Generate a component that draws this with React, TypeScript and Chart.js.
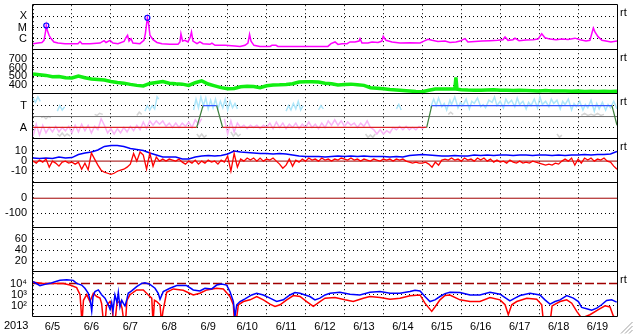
import React, { useEffect, useRef } from 'react';
import { Chart, registerables } from 'chart.js';

Chart.register(...registerables);

// ---------- axis / tick labels ----------
const yearLabel = '2013';
const dayLabels = ['6/5', '6/6', '6/7', '6/8', '6/9', '6/10', '6/11', '6/12', '6/13', '6/14', '6/15', '6/16', '6/17', '6/18', '6/19'];
const rightTag = 'rt';

const xrayTickValues = [1e-4, 1e-5, 1e-6];
const xrayTickLabels = ['X', 'M', 'C'];
const speedTickValues = [700, 600, 500, 400];
const sectorTickValues = [1, 0];
const sectorTickLabels = ['T', 'A'];
const fieldTickValues = [10, 0, -10];
const dstTickValues = [0, -100];
const kpTickValues = [60, 40, 20];
const electronTickValues = [1e4, 1e3, 1e2];
const electronTickLabels = ['10⁴', '10³', '10²'];

// ---------- reference levels ----------
const sectorA = 0;
const sectorT = 1;
const sectorMid = 0.5;
const fieldZero = 0;
const dstZero = 0;
const electronAlert = 1e4;

// ---------- data (x = hours since 6/5 00:00 UT) ----------
const xrayFlux: [number, number][] = [
  [0, 3.5e-7], [3.1, 4e-7], [5.5, 4.5e-7], [6.8, 7e-7], [7.7, 4e-6], [8.2, 1.5e-5], [8.9, 5e-6], [9.9, 2e-6], [11.1, 1e-6], [12.9, 5e-7],
  [15.4, 4e-7], [19.7, 3.5e-7], [24, 3.5e-7], [27.7, 3.5e-7], [29, 5.5e-7], [30.2, 3.5e-7], [35.1, 3.5e-7], [41.3, 4e-7], [43.8, 6.5e-7], [45, 4.5e-7],
  [47.5, 7e-7], [49.3, 4e-7], [52.4, 3.5e-7], [56.1, 5.5e-7], [57.3, 1.2e-6], [58.3, 2e-6], [59.2, 6e-7], [60.4, 1e-6], [61.6, 4e-7], [65.9, 3.5e-7],
  [68.4, 7e-7], [69.3, 3e-6], [70.5, 7.5e-5], [71.2, 2.5e-5], [72.1, 2e-6], [74, 8e-7], [76.4, 4.5e-7], [79.5, 3.5e-7], [84.4, 3.1e-7], [89.4, 3.1e-7],
  [90.6, 5e-7], [91.2, 2.7e-6], [92.2, 6e-7], [93.7, 7e-7], [95.5, 5e-7], [96.8, 1.2e-6], [97.7, 3.9e-6], [98.6, 6e-7], [101.1, 3.5e-7], [102.9, 5e-7],
  [104.8, 3.5e-7], [109.1, 3.1e-7], [110.3, 4e-7], [112.2, 2.5e-7], [118.4, 2.5e-7], [124.5, 2.2e-7], [127.6, 2e-7], [130.7, 2.5e-7], [132.5, 4e-7], [133.5, 2.4e-6],
  [134.4, 6e-7], [136.2, 2.5e-7], [139.9, 2e-7], [146.1, 2e-7], [147.3, 2.5e-7], [149.8, 2.5e-7], [151, 2e-7], [158.4, 2e-7], [164.6, 2e-7], [170.7, 2e-7],
  [176.9, 2e-7], [181.8, 2e-7], [183.7, 3.5e-7], [186.2, 5e-7], [188, 3e-7], [190.5, 3.5e-7], [193.6, 3.5e-7], [195.4, 5e-7], [198.5, 5e-7], [201, 6e-7],
  [201.6, 1e-6], [202.8, 4e-7], [206.5, 4e-7], [209, 5e-7], [212.7, 4.5e-7], [215.1, 6e-7], [215.9, 1.6e-6], [217.6, 7e-7], [221.3, 5e-7], [226.2, 4e-7],
  [232.4, 4.2e-7], [238.6, 4e-7], [241, 6e-7], [243.5, 8.7e-7], [246, 7e-7], [249.6, 5.5e-7], [254, 6e-7], [257, 4.5e-7], [260.7, 5e-7], [263.2, 6e-7],
  [266.3, 1e-6], [268.1, 5e-7], [272.4, 5.5e-7], [276.8, 6e-7], [281.7, 6.5e-7], [286.6, 7e-7], [289.7, 8e-7], [291, 1.4e-6], [292.8, 7e-7], [295.9, 8e-7],
  [297.1, 1.1e-6], [299.6, 6.5e-7], [303.9, 7.5e-7], [308.2, 8e-7], [311.3, 9e-7], [313.6, 2.7e-6], [315.6, 1.2e-6], [318.7, 9e-7], [322.4, 8e-7], [326.1, 9e-7],
  [329.8, 8.5e-7], [334.1, 1.1e-6], [337.2, 8e-7], [340.9, 6e-7], [343.3, 7e-7], [345.4, 9e-6], [346.4, 4e-6], [348.3, 1.5e-6], [350.7, 7e-7], [353.2, 6e-7],
  [356.3, 5e-7], [360, 6e-7],
];
const flareMarkers: [number, number][] = [[8.2, 1.5e-5], [70.5, 7.5e-5]];

const windSpeed: [number, number][] = [
  [0, 528], [4, 520], [8, 512], [12, 497], [16, 500], [20, 486], [24, 483], [28, 505], [32, 485], [36, 472],
  [40, 467], [44, 460], [48, 444], [52, 432], [56, 425], [60, 411], [64, 400], [68, 394], [72, 422], [76, 433],
  [80, 444], [84, 425], [88, 418], [92, 414], [96, 400], [100, 430], [104, 450], [108, 415], [112, 395], [116, 375],
  [120, 362], [124, 365], [128, 385], [132, 390], [136, 388], [140, 374], [144, 395], [148, 405], [152, 406], [156, 410],
  [160, 418], [164, 437], [168, 442], [172, 440], [176, 437], [180, 425], [184, 418], [188, 405], [192, 410], [196, 414],
  [200, 408], [204, 400], [208, 374], [212, 368], [216, 362], [220, 353], [224, 347], [228, 342], [232, 336], [236, 330],
  [240, 328], [244, 345], [248, 358], [252, 360], [256, 358], [260, 358], [260.7, 489], [261.4, 356], [264, 350], [268, 347],
  [272, 346], [276, 344], [280, 348], [284, 352], [288, 346], [292, 344], [296, 342], [300, 346], [304, 343], [308, 340],
  [312, 338], [316, 342], [320, 338], [324, 336], [328, 337], [332, 334], [336, 336], [340, 332], [344, 334], [348, 331],
  [352, 333], [356, 330], [360, 334],
];

const sectorState: [number, number][] = [
  [0, 0], [100.9, 0], [104.8, 1], [113.2, 1], [116.9, 0], [242.7, 0], [245.8, 1], [356.9, 1], [360, 0.1],
];
const sectorPinkStepHours = 2;
const sectorPink: (number | null)[] = [
  -0.4, 0.15, -0.35, 0.1, -0.25, 0.0, -0.2, 0.05, -0.2, 0.0, -0.15, 0.05,
  -0.25, 0.1, -0.2, 0.15, -0.15, 0.1, -0.25, 0.05, -0.1, 0.4, 0.1,
  -0.25, -0.05, -0.3, -0.05, -0.25, 0.0, -0.2, 0.05, -0.15, 0.1, -0.1,
  0.25, -0.05, 0.3, 0.1, 0.3, 0.15, 0.3, 0.05, 0.2, 0.0, 0.2,
  0.0, 0.2, 0.05, 0.25, 0.0, 0.35, 0.15, 0.4,
  null, null, null, null, null, null,
  0.4, -0.3, 0.3, -0.2, 0.2, 0.0, 0.1, -0.05, 0.1, 0.0, 0.1, -0.05, 0.1, 0.0,
  0.2, -0.05, 0.25, 0.0, 0.2, -0.05, 0.15, 0.0, 0.2, -0.05, 0.15, 0.0, 0.25, 0.0, 0.15, -0.05, 0.2, 0.0, 0.3,
  0.1, 0.35, 0.1, 0.3, 0.05, 0.25, 0.1, 0.2, 0.0, 0.2, 0.05, 0.3, 0.0,
  -0.1, -0.3, -0.1, -0.3, -0.15, -0.25, 0.0, -0.1, 0.05, -0.1, 0.05, -0.1, 0.0, -0.1, 0.05, -0.05, 0.05,
];
const sectorBlue: [number, number | null][] = [
  [0, 1.35], [1.5, 1.15], [3, 1.4], [4.5, 1.2], [5, null],
  [15, 0.75], [16.5, 1.0], [18, 0.8], [19.5, 0.95], [20, null],
  [69, 0.75], [70.5, 1.0], [72, 0.8], [73.5, 1.0], [75, 0.85], [76.5, 1.4], [77.5, 1.3], [78, null],
  [99, 0.8], [100.5, 1.3], [102, 0.9], [103.5, 1.4], [105, 1.0], [106.5, 1.35], [108, 0.85], [109.5, 1.25], [111, 0.9], [112.5, 1.3],
  [114, 0.85], [115.5, 1.2], [117, 0.9], [118.5, 1.3], [120, 0.8], [121.5, 1.2], [123, 0.9], [124.5, 1.1], [126, 0.85], [127, null],
  [156, 0.75], [157.5, 1.0], [159, 0.8], [160.5, 1.1], [162, 0.85], [163.5, 1.2], [165, 0.8], [166.5, 1.0], [167, null],
  [176, 0.8], [177.5, 1.0], [179, 0.85], [180, null],
  [224, 0.85], [225.5, 1.05], [227, 0.8], [228, null],
  [245, 0.9], [247, 1.3], [248.5, 1.0], [250, 1.35], [252, 0.95], [253.5, 1.1], [255, 0.8], [257, 1.25], [258, 1.05], [260, 1.4],
  [262, 0.9], [263.5, 1.15], [265, 1.0], [267, 1.3], [269, 0.85], [270.5, 1.2], [272, 1.1], [274, 1.35], [276, 0.95], [277.5, 1.05],
  [279, 0.9], [281, 1.25], [283, 1.15], [284.5, 1.4], [286, 1.0], [288, 1.2], [290, 0.9], [291.5, 1.3], [293, 1.1], [295, 1.25],
  [297, 0.95], [298.5, 1.35], [300, 1.05], [302, 1.2], [304, 0.85], [305.5, 1.15], [307, 1.0], [309, 1.3], [311, 0.9], [312.5, 1.4],
  [314, 1.05], [316, 1.2], [318, 0.95], [319.5, 1.3], [321, 1.1], [323, 1.25], [325, 0.85], [326.5, 1.2], [328, 1.05], [330, 1.3],
  [332, 0.8], [333.5, 1.1], [335, 0.95], [337, 1.2], [339, 0.8], [340.5, 1.05], [342, 0.9], [344, 1.25], [346, 0.75], [347.5, 1.1],
  [349, 0.85], [351, 1.15], [353, 0.8], [354.5, 1.05], [356, 0.9], [358, 1.2], [360, 0.85],
];
const sectorGray: [number, number | null][] = [
  [5, 0.45], [6.5, 0.5], [8, 0.4], [9.5, 0.5], [11, 0.45], [12, null],
  [15, -0.3], [16.5, -0.4], [18, -0.25], [19.5, -0.4], [21, -0.3], [23, -0.4], [24, null],
  [38, 0.6], [39.5, 0.55], [41, 0.65], [43, 0.6], [44, null],
  [64, 0.55], [65.5, 0.7], [67, 0.6], [68, null],
  [101, -0.3], [102.5, -0.45], [104, -0.3], [105.5, -0.45], [107, -0.35], [108, null],
  [122, -0.2], [123.5, -0.4], [125, -0.25], [126.5, -0.4], [128, -0.3], [129, null],
  [205, -0.3], [206.5, -0.45], [208, -0.35], [209.5, -0.45], [211, -0.3], [212, null],
  [256, 0.6], [257.5, 0.7], [259, 0.6], [260, null],
  [323, -0.3], [324.5, -0.45], [326, -0.35], [327, null],
  [338, 0.55], [340, 0.65], [342, 0.55], [344, 0.6], [346, 0.55], [348, 0.65], [350, 0.55], [352, 0.6], [353, null],
];

const fieldTotalStepHours = 4;
const fieldTotal: number[] = [
  3, 2.5, 3, 2.5, 4, 3, 3.5, 6.5, 8, 9,
  11, 14.5, 15.5, 15.5, 14.5, 12.5, 11.5, 10.5, 8, 6,
  4, 4, 4, 2, 2, 4, 5, 5.5, 5, 5.5,
  7, 10, 9, 8.5, 8, 7.5, 7.5, 7, 7.5, 7,
  6, 5, 4.5, 4.5, 4.5, 4, 4.5, 5, 4.5, 5,
  4.5, 5, 4.5, 4.5, 4.5, 4, 4.5, 4, 5.5, 6,
  6.5, 6, 5.5, 5, 5, 5.5, 5, 5, 6, 5.5,
  6, 5.5, 6, 6, 5.5, 6, 6, 5.5, 6, 6,
  5.5, 6, 5.5, 6, 6, 6.5, 6, 6.5, 6.5, 7,
  9.5,
];
const fieldBzStepHours = 2;
const fieldBz: number[] = [
  0, -2, 1, -1, 2, -6, 0, -2, -5, -1,
  0, -2, -1, -3, -1, -8, -2, -8.5, 8, 2,
  -4, -9, -11, -12, -13, -12, -10, -9, -8, -6,
  -3, 7.5, 0, 9, 6, -8, 8, -5, 4, 0,
  2, 0, 2, 1, 0, 2, -1, -3, 0, -2,
  1, -3, 0, -2, 1, -1, 0, -3, 1, -1,
  5, -10, 7.5, -6, 2, 0, 3, 1, 3, 0,
  3, 0, 2, 1, 3, 0, -3, -7, -4, 2,
  -5, 1, -1, 2, 0, 3, 1, 2, 0, 3,
  1, 2, 0, 2, 1, 3, 2, 1, 3, 1,
  2, 0, 2, 1, 0, 2, 1, 0, 2, 1,
  2, 0, 2, 1, 2, 0, -1, -2, -1, -2,
  -2, -1, -3, -6, -1, -4, 1, 2, 1, 3,
  1, 2, 0, 3, 1, 2, 0, 3, 1, 3,
  0, 2, -1, 1, -1, 0, -2, 1, -1, -2,
  0, -2, -1, -2, 0, -1, -2, -3, -4, -3,
  -4, -2, -3, 0, 2, 0, 3, -4, 2, -2,
  3, 1, 3, 0, 2, 1, 3, 0, -1, -5, -8,
];

const electronLow: [number, number][] = [
  [0.2, 14800], [4.3, 6610], [7.4, 8510], [10.5, 10500], [13.6, 14800], [16.6, 19500], [20.8, 22400], [24.8, 19500], [26.9, 10500], [30, 7410],
  [32, 3800], [34.1, 1350], [35.4, 251], [36.2, 34], [37, 631], [38.2, 1910], [40.3, 2690], [42.3, 1000], [44.4, 490], [46.4, 126],
  [47.5, 50], [48.5, 200], [49.3, 32], [50.5, 955], [51.8, 200], [52.6, 1580], [53.6, 79], [54.7, 316], [55.8, 158], [56.7, 100],
  [57.9, 398], [58.7, 1350], [60.8, 2190], [63.9, 5370], [67, 10500], [69, 12000], [72.1, 8510], [75.2, 3800], [77.2, 1350], [78.3, 398],
  [80.3, 1910], [84.4, 3800], [88.6, 6610], [94.7, 6610], [98.8, 2690], [102.9, 2190], [106, 3800], [110.2, 3310], [113.2, 7410], [116.3, 9120],
  [119.4, 7410], [121.4, 1910], [123.5, 245], [124.5, 11], [125.6, 126], [127.6, 245], [130.7, 427], [134.8, 955], [137.9, 1350], [142, 955],
  [146.1, 490], [150.2, 245], [154.3, 347], [158.4, 955], [161.5, 1580], [164.6, 1350], [167.7, 955], [170.7, 692], [173.8, 347], [176.9, 490],
  [180, 955], [183.1, 1350], [189.2, 1660], [195.4, 1120], [201.5, 955], [207.7, 1660], [213.9, 1910], [220.1, 1350], [226.2, 1350], [232.4, 1910],
  [235.5, 2510], [238.6, 2190], [241.6, 692], [244.7, 245], [247.8, 347], [250.9, 692], [254, 1260], [257, 1660], [263.2, 1550], [269.4, 955],
  [275.5, 955], [281.7, 1660], [287.9, 1120], [291, 562], [294, 282], [297.1, 490], [300.2, 851], [306.4, 1350], [312.5, 955], [315.6, 347],
  [318.7, 145], [321.8, 245], [324.9, 347], [329, 851], [333.1, 490], [336.2, 245], [338.2, 72], [341.3, 56], [344.4, 40], [347.5, 63],
  [350.5, 126], [353.6, 302], [356.7, 347], [359.8, 214],
];
const electronHigh: [number, number][] = [
  [0.2, 12900], [6.3, 10000], [14.6, 10000], [18.7, 10000], [22.8, 7410], [26.9, 4370], [29, 1000], [30.2, 3], [31.1, 316], [33.1, 1000],
  [35.1, 245], [37.2, 1350], [39.3, 692], [41.3, 501], [42.3, 158], [43.5, 3], [44.4, 3], [45.3, 100], [47.5, 245], [48.7, 100],
  [49.6, 3], [50.5, 3], [51.8, 200], [53.6, 245], [54.9, 63], [56.1, 3], [57, 3], [57.9, 316], [59.8, 1000], [63.9, 2690],
  [68, 2690], [71.1, 955], [73.2, 490], [74, 3], [74.9, 316], [76.3, 245], [78.3, 126], [79.2, 3], [80.1, 32], [82.4, 1660],
  [86.5, 3310], [92.6, 2510], [98.8, 955], [102.9, 1350], [107.1, 2690], [113.2, 3800], [117.3, 3310], [121.4, 692], [123.5, 126], [124.2, 3],
  [125.1, 3], [126.6, 126], [129.7, 245], [133.8, 347], [137.9, 692], [142, 347], [146.1, 145], [149.2, 89], [152.3, 126], [156.4, 347],
  [160.5, 851], [164.6, 692], [168.7, 245], [172.8, 89], [176.9, 245], [180, 490], [186.1, 562], [192.3, 347], [197.4, 245], [203.6, 490],
  [207.7, 692], [213.9, 562], [220.1, 398], [226.2, 490], [232.4, 794], [238.6, 955], [241.6, 174], [245.8, 32], [247.8, 79], [250.9, 347],
  [254, 851], [257, 955], [263.2, 347], [269.4, 245], [275.5, 245], [281.7, 562], [287.9, 347], [291, 126], [293, 16], [295.1, 126],
  [298.2, 245], [304.4, 490], [310.5, 398], [313.6, 126], [314.7, 3], [318.7, 3], [320, 100], [322.5, 158], [324.9, 245], [329, 347],
  [332.1, 174], [335.2, 32], [338.2, 8], [343.3, 16], [348.5, 45], [352.6, 100], [355.7, 79], [357.7, 12.6], [360, 6.3],
];

// ---------- helpers ----------
const totalHours = dayLabels.length * 24;
const pts = (arr: [number, number | null][]) => arr.map(([x, y]) => ({ x, y }));
const uniform = (vals: (number | null)[], step: number) => vals.map((y, i) => ({ x: i * step, y }));
const flat = (level: number) => [{ x: 0, y: level }, { x: totalHours, y: level }];

const FONT = { family: "'Liberation Sans', Arial, Helvetica, sans-serif", size: 11 };
const TRANSPARENT = 'rgba(0,0,0,0)';

function noPad(s: any) {
  s.paddingTop = 0;
  s.paddingBottom = 0;
  s.paddingLeft = 0;
  s.paddingRight = 0;
}

function panelScale(weight: number, extra: any, tickValues: number[], labels?: string[], hideGrid: number[] = []) {
  return {
    position: 'left',
    stack: 'panels',
    stackWeight: 1,
    weight,
    border: { display: false, dash: [1, 3] },
    grid: {
      drawTicks: false,
      lineWidth: 1,
      color: (ctx: any) => (ctx.tick && hideGrid.includes(ctx.tick.value) ? TRANSPARENT : '#000'),
    },
    ticks: {
      autoSkip: false,
      padding: 6,
      color: '#000',
      font: FONT,
      callback: (v: any, i: number) => (labels ? labels[i] : String(v)),
    },
    afterBuildTicks: (s: any) => {
      s.ticks = tickValues.map((value) => ({ value }));
    },
    afterFit: (s: any) => {
      s.width = 33;
      noPad(s);
    },
    ...extra,
  };
}

const rtPanels = ['yXray', 'ySpeed', 'ySector', 'yField', 'yElec'];
const panelOrder = ['yXray', 'ySpeed', 'ySector', 'yField', 'yDst', 'yKp', 'yElec'];

const decorPlugin = {
  id: 'decor',
  beforeDraw(chart: any) {
    const { ctx, width, height } = chart;
    ctx.save();
    ctx.fillStyle = '#fff';
    ctx.fillRect(0, 0, width, height);
    ctx.restore();
  },
  afterDatasetsDraw(chart: any) {
    const { ctx, chartArea } = chart;
    const L = Math.round(chartArea.left) - 0.5;
    const R = Math.round(chartArea.right) + 0.5;
    ctx.save();
    ctx.strokeStyle = '#000';
    ctx.lineWidth = 1;
    ctx.beginPath();
    const ys: number[] = [chartArea.top];
    panelOrder.forEach((id) => ys.push(chart.scales[id].bottom));
    ys.forEach((y) => {
      const yy = Math.round(y) - 0.5;
      ctx.moveTo(L, yy);
      ctx.lineTo(R, yy);
    });
    ctx.moveTo(L, Math.round(chartArea.top) - 0.5);
    ctx.lineTo(L, Math.round(chartArea.bottom) - 0.5);
    ctx.moveTo(R, Math.round(chartArea.top) - 0.5);
    ctx.lineTo(R, Math.round(chartArea.bottom) - 0.5);
    ctx.stroke();

    ctx.fillStyle = '#000';
    ctx.font = `${FONT.size}px ${FONT.family}`;
    ctx.textBaseline = 'middle';
    ctx.textAlign = 'left';
    rtPanels.forEach((id) => {
      ctx.fillText(rightTag, chartArea.right + 3, chart.scales[id].top + 8);
    });
    ctx.fillText(yearLabel, 4, chartArea.bottom + 9);

    // window resize grip
    ctx.strokeStyle = '#a0a0a0';
    ctx.beginPath();
    [0, 4, 8].forEach((k) => {
      ctx.moveTo(chart.width - 12 + k, chart.height - 0.5);
      ctx.lineTo(chart.width - 0.5, chart.height - 12 + k);
    });
    ctx.stroke();
    ctx.restore();
  },
};

export default function App() {
  const ref = useRef<HTMLCanvasElement>(null);
  useEffect(() => {
    const line = (extra: any) => ({
      type: 'line',
      pointRadius: 0,
      fill: false,
      tension: 0,
      spanGaps: false,
      ...extra,
    });
    const datasets: any[] = [
      // panel 1: X-ray
      line({ data: pts(xrayFlux), yAxisID: 'yXray', borderColor: '#ff00ff', borderWidth: 1.5, order: 2 }),
      {
        type: 'scatter', data: pts(flareMarkers), yAxisID: 'yXray', showLine: false,
        pointRadius: 2.5, pointBorderColor: '#0000ff', pointBackgroundColor: TRANSPARENT, pointBorderWidth: 1.2, order: 0,
      },
      // panel 2: solar wind speed
      line({ data: pts(windSpeed), yAxisID: 'ySpeed', borderColor: '#11ee11', borderWidth: 3.5, order: 2 }),
      // panel 3: sector
      line({ data: uniform(sectorPink, sectorPinkStepHours), yAxisID: 'ySector', borderColor: '#f9b4f6', borderWidth: 1.5, order: 9 }),
      line({ data: pts(sectorGray), yAxisID: 'ySector', borderColor: '#d4d4d4', borderWidth: 1.5, order: 9 }),
      line({ data: pts(sectorBlue), yAxisID: 'ySector', borderColor: '#aee6fa', borderWidth: 1.5, order: 9 }),
      line({ data: flat(sectorMid), yAxisID: 'ySector', borderColor: '#707070', borderWidth: 1, order: 5 }),
      line({
        data: pts(sectorState), yAxisID: 'ySector', borderWidth: 1.2, order: 1, borderColor: '#dd2222',
        segment: {
          borderColor: (c: any) => {
            const a = c.p0.parsed.y;
            const b = c.p1.parsed.y;
            if (a === sectorA && b === sectorA) return '#dd2222';
            if (a === sectorT && b === sectorT) return '#3355ff';
            return '#3a7d3a';
          },
        },
      }),
      // panel 4: magnetic field
      line({ data: flat(fieldZero), yAxisID: 'yField', borderColor: '#a00000', borderWidth: 1, order: 5 }),
      line({ data: uniform(fieldTotal, fieldTotalStepHours), yAxisID: 'yField', borderColor: '#0000ff', borderWidth: 1.5, order: 3 }),
      line({ data: uniform(fieldBz, fieldBzStepHours), yAxisID: 'yField', borderColor: '#ff0000', borderWidth: 1.3, order: 2 }),
      // panel 5: Dst (no data)
      line({ data: flat(dstZero), yAxisID: 'yDst', borderColor: '#a00000', borderWidth: 1, order: 5 }),
      // panel 7: electrons
      line({ data: flat(electronAlert), yAxisID: 'yElec', borderColor: '#a00000', borderWidth: 1.5, borderDash: [9, 3], order: 5 }),
      line({ data: pts(electronHigh), yAxisID: 'yElec', borderColor: '#ff0000', borderWidth: 1.5, order: 3 }),
      line({ data: pts(electronLow), yAxisID: 'yElec', borderColor: '#0000ff', borderWidth: 1.5, order: 2 }),
    ];

    const hourTicks: number[] = [];
    for (let h = 0; h <= totalHours; h += 12) hourTicks.push(h);

    const chart = new Chart(ref.current as HTMLCanvasElement, {
      type: 'line',
      data: { datasets },
      plugins: [decorPlugin],
      options: {
        responsive: false,
        maintainAspectRatio: false,
        animation: false,
        events: [],
        layout: { padding: { left: 0, right: 16, top: 3, bottom: 0 } },
        plugins: { legend: { display: false }, tooltip: { enabled: false } },
        scales: {
          x: {
            type: 'linear',
            position: 'bottom',
            min: 0,
            max: totalHours,
            afterBuildTicks: (s: any) => {
              s.ticks = hourTicks.map((value) => ({ value }));
            },
            afterFit: (s: any) => {
              s.height = 17;
              noPad(s);
            },
            border: { display: false, dash: [1, 3] },
            grid: {
              drawTicks: false,
              lineWidth: 1,
              color: (ctx: any) => (ctx.tick && ctx.tick.value % 24 === 0 ? '#000' : TRANSPARENT),
            },
            ticks: {
              autoSkip: false,
              maxRotation: 0,
              minRotation: 0,
              padding: 3,
              color: '#000',
              font: FONT,
              callback: (v: any) => {
                const d = (Number(v) - 12) / 24;
                return Number.isInteger(d) && dayLabels[d] ? dayLabels[d] : '';
              },
            },
          },
          yXray: panelScale(7, { type: 'logarithmic', min: 1e-7, max: 1e-3 }, xrayTickValues, xrayTickLabels),
          ySpeed: panelScale(6, { type: 'linear', min: 300, max: 800 }, speedTickValues),
          ySector: panelScale(5, { type: 'linear', min: -0.52, max: 1.52 }, sectorTickValues, sectorTickLabels),
          yField: panelScale(4, { type: 'linear', min: -22, max: 22 }, fieldTickValues, undefined, [fieldZero]),
          yDst: panelScale(3, { type: 'linear', min: -200, max: 100 }, dstTickValues, undefined, [dstZero]),
          yKp: panelScale(2, { type: 'linear', min: 0, max: 80 }, kpTickValues),
          yElec: panelScale(1, { type: 'logarithmic', min: 10, max: 1e5 }, electronTickValues, electronTickLabels, [electronAlert]),
        },
      } as any,
    } as any);
    return () => chart.destroy();
  }, []);

  return (
    <div style={{ position: 'absolute', left: 0, top: 0, width: 633, height: 334, background: '#fff' }}>
      <canvas ref={ref} width={633} height={334} style={{ display: 'block' }} />
    </div>
  );
}
